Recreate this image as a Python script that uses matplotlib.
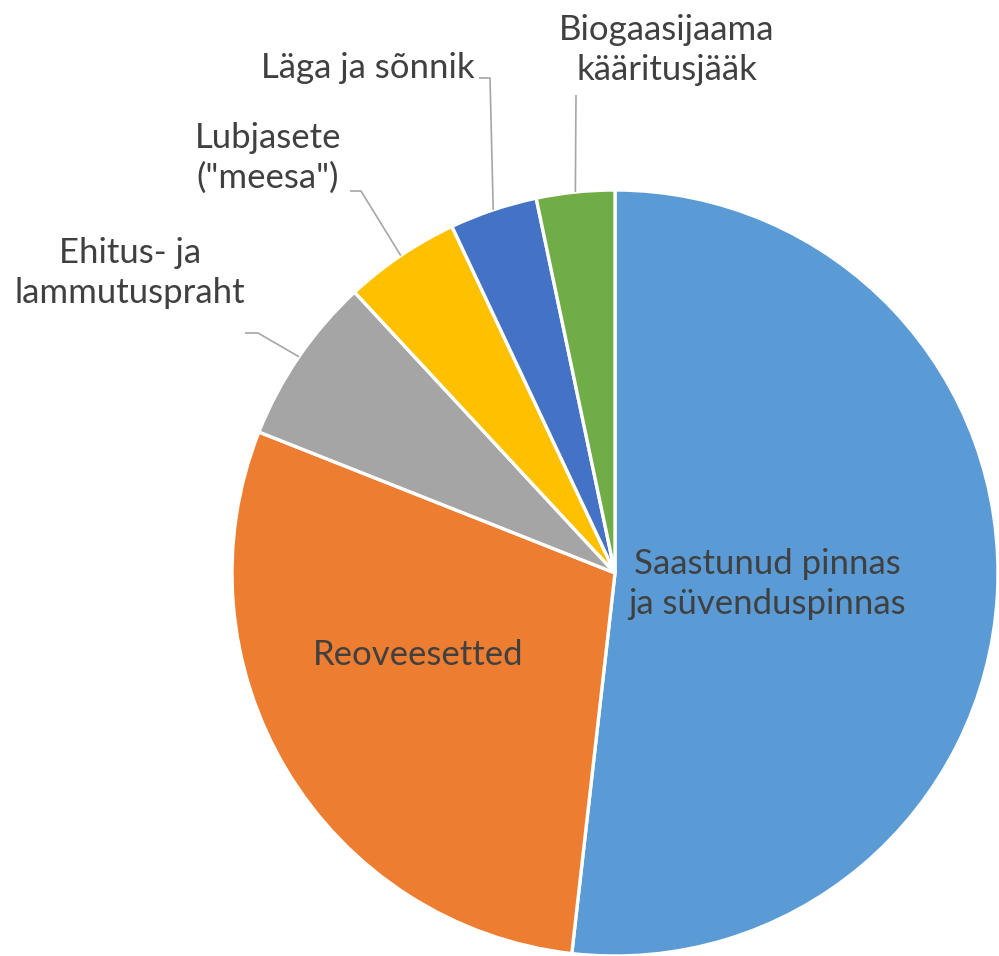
import matplotlib
matplotlib.use("Agg")
import matplotlib.pyplot as plt
import numpy as np

categories = ["Saastunud pinnas\nja süvenduspinnas", "Reoveesetted", "Ehitus- ja\nlammutuspraht",
              "Lubjasete\n(\"meesa\")", "Läga ja sõnnik", "Biogaasijaama\nkääritusjääk"]
values = [51.8, 29.2, 7.1, 4.9, 3.7, 3.3]
colors = ["#5B9BD5", "#ED7D31", "#A5A5A5", "#FFC000", "#4472C4", "#70AD47"]

W, H = 999, 956
fig = plt.figure(figsize=(W / 100, H / 100), dpi=100)
ax = fig.add_axes([0, 0, 1, 1])
cx, cy, R = 615, H - 573, 383
wedges, _ = ax.pie(values, colors=colors, startangle=90, counterclock=False,
                   center=(cx, cy), radius=R,
                   wedgeprops=dict(edgecolor="white", linewidth=2.4))
ax.set_xlim(0, W)
ax.set_ylim(0, H)
ax.set_aspect("equal")
ax.axis("off")

font = dict(family=["Lato", "DejaVu Sans"], fontsize=25, color="#404040",
            ha="center", va="center", linespacing=1.3)

# inside labels (pixel positions from top-left)
ax.text(767, H - 584, categories[0], **font)
ax.text(418, H - 655, categories[1], **font)

# outside labels: text center, elbow points (pixel coords)
outside = {
    2: ((130, 273), [(245, 333), (258, 333)]),
    3: ((268, 158), [(350, 191), (361, 191)]),
    4: ((368, 68), [(479, 78), (490, 78)]),
    5: ((667, 50), [(576, 95)]),
}
for i, (tpos, elbow) in outside.items():
    ax.text(tpos[0], H - tpos[1], categories[i], **font)
    w = wedges[i]
    mid = np.deg2rad((w.theta1 + w.theta2) / 2)
    ex, ey = cx + R * np.cos(mid), cy + R * np.sin(mid)
    xs = [p[0] for p in elbow] + [ex]
    ys = [H - p[1] for p in elbow] + [ey]
    ax.plot(xs, ys, color="#A6A6A6", lw=1.2, solid_capstyle="butt")

fig.savefig("out.png", dpi=100)
